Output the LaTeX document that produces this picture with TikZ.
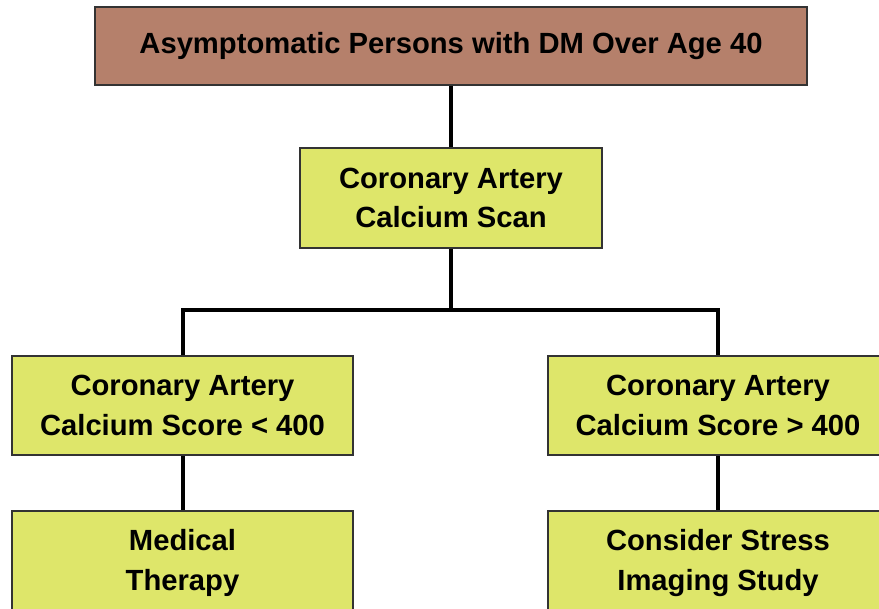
\documentclass[tikz,border=0pt]{standalone}
\usepackage{fontspec}
\setmainfont{Liberation Sans}
\definecolor{boxbrown}{HTML}{B5806B}
\definecolor{boxyellow}{HTML}{DEE66A}
\definecolor{edgegray}{HTML}{333333}
\begin{document}
\begin{tikzpicture}[x=1pt,y=-1pt,
  box/.style={draw=edgegray, line width=2pt, fill=boxyellow, inner sep=0pt,
    align=center, font=\fontsize{29.2}{39.5}\selectfont\bfseries},
  link/.style={draw=black, line width=4pt}]
\path[use as bounding box, clip] (0,0) rectangle (879,609);
\node[box, fill=boxbrown, minimum width=712pt, minimum height=78pt] (top) at (451,46) {Asymptomatic Persons with DM Over Age 40};
\node[box, minimum width=302pt, minimum height=100pt] (mid) at (451,198) {Coronary Artery\\Calcium Scan};
\node[box, minimum width=341pt, minimum height=99pt] (left) at (182.5,405.5) {Coronary Artery\\Calcium Score < 400};
\node[box, minimum width=340pt, minimum height=99pt] (right) at (718,405.5) {Coronary Artery\\Calcium Score > 400};
\node[box, minimum width=341pt, minimum height=104pt] (lb) at (182.5,563) {Medical\\Therapy};
\node[box, minimum width=340pt, minimum height=104pt] (rb) at (718,563) {Consider Stress\\Imaging Study};
\coordinate (j) at (451,310);
\draw[link] (top.south) -- (mid.north);
\draw[link] (mid.south) -- (j);
\draw[link] (left.north) -- (left.north |- j) -- (right.north |- j) -- (right.north);
\draw[link] (left.south) -- (lb.north);
\draw[link] (right.south) -- (rb.north);
\end{tikzpicture}
\end{document}
